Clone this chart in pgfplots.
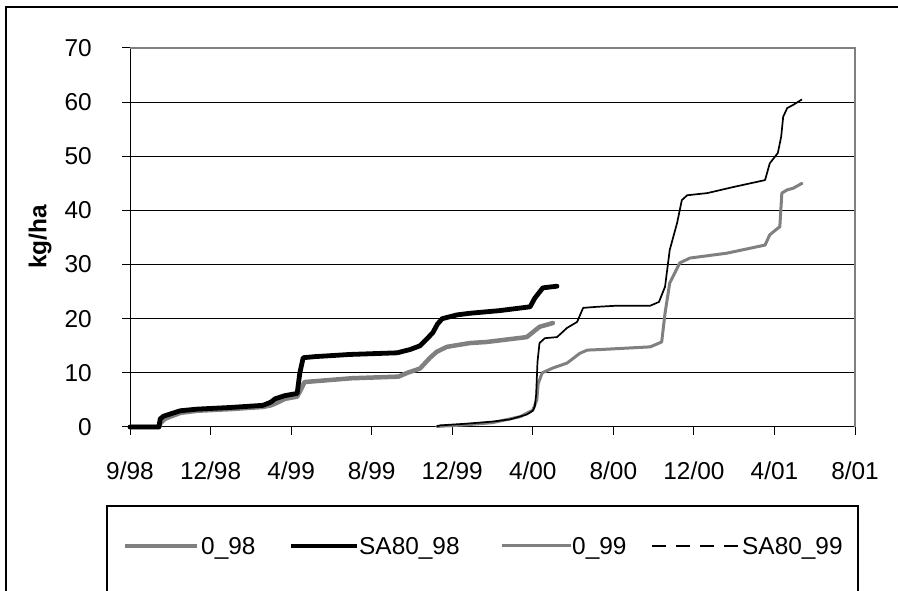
\documentclass[border=0pt]{standalone}
\usepackage{pgfplots}
\pgfplotsset{compat=1.18}
\usepackage{fontspec}
\setmainfont{Liberation Sans}
\definecolor{exgray}{RGB}{128,128,128}
\newcommand\chartfont{\fontsize{24.5}{29}\selectfont}
\begin{document}
\begin{tikzpicture}[x=1bp,y=1bp]
\useasboundingbox (0,0) rectangle (898,591);
\begin{axis}[
  at={(130bp,164bp)}, anchor=south west,
  scale only axis, width=725bp, height=379bp,
  xmin=0, xmax=1080, ymin=0, ymax=70,
  axis x line*=bottom, axis y line*=left,
  axis line style={black, line width=1bp},
  xtick={0,120,240,360,480,600,720,840,960,1080},
  xticklabels={9/98,12/98,4/99,8/99,12/99,4/00,8/00,12/00,4/01,8/01},
  ytick={0,10,20,30,40,50,60,70},
  tick align=outside, major tick length=8bp,
  tick style={black, line width=1bp},
  ymajorgrids, grid style={black, line width=1bp},
  /pgf/number format/assume math mode=true,
  every tick label/.append style={font=\chartfont, inner sep=0pt},
  xticklabel style={anchor=base, yshift=-44.5bp},
  yticklabel style={anchor=east, xshift=-30bp},
  clip=false,
]
\draw[exgray, line width=1.3bp] (rel axis cs:0,1) -- (rel axis cs:1,1) -- (rel axis cs:1,0);
% 0_98
\addplot[exgray, line width=4.5bp, line cap=round, line join=round] coordinates {
(0,0) (43,0) (46,0.8) (52,1.5) (60,1.9) (75,2.6) (100,3.0) (149,3.3) (198,3.7) (210,4.0) (216,4.3) (231,5.2) (249,5.6) (255,7) (260,8.3) (290,8.6) (330,9.0) (400,9.3) (413,10) (432,10.8) (447,12.8) (457,13.9) (472,14.8) (506,15.5) (531,15.7) (591,16.6) (600,17.5) (610,18.5) (630,19.2)
};
% SA80_98
\addplot[black, line width=4.8bp, line cap=round, line join=round] coordinates {
(0,0) (43,0) (45,1.5) (50,2.0) (60,2.4) (75,3.0) (100,3.3) (149,3.6) (198,4.0) (210,4.6) (216,5.2) (231,5.8) (249,6.2) (253,10) (258,12.8) (276,13.0) (328,13.4) (398,13.7) (417,14.3) (432,15.0) (440,16) (451,17.4) (458,19) (465,20.0) (487,20.7) (506,21.0) (551,21.5) (596,22.2) (603,23.8) (615,25.7) (636,26.0)
};
% 0_99
\addplot[exgray, line width=3bp, line cap=round, line join=round] coordinates {
(457,0.1) (500,0.4) (540,0.8) (581,1.9) (600,3.1) (606,5) (608,8) (614,10) (630,10.9) (651,11.8) (670,13.6) (681,14.2) (700,14.3) (775,14.8) (792,15.7) (797,21) (804,26.6) (819,30.3) (834,31.2) (889,32.1) (946,33.6) (953,35.5) (968,37) (971,43.2) (979,43.8) (988,44.1) (1001,45)
};
% SA80_99
\addplot[black, line width=1.7bp, line join=round] coordinates {
(457,0.1) (462,0.3) (500,0.6) (540,1.0) (566,1.4) (591,2.3) (600,3.0) (603,3.8) (605,6) (607,12) (610,15.5) (618,16.4) (636,16.6) (644,17.5) (651,18.3) (666,19.4) (675,22) (696,22.2) (725,22.4) (775,22.4) (788,23.1) (797,25.9) (804,32.7) (815,37.7) (822,41.9) (830,42.8) (860,43.2) (898,44.3) (946,45.6) (953,48.7) (965,50.6) (970,53.6) (973,57.3) (979,58.9) (988,59.5) (1001,60.5)
};
\end{axis}
\node[rotate=90, font=\chartfont\bfseries] at (40,354) {kg/ha};
% chart frame
\draw[black, line width=2.5bp] (6,-5) -- (6,584) -- (905,584);
% legend box
\draw[black, line width=1.2bp] (107,-5) -- (107,85) -- (858,85) -- (858,-5);
\begin{scope}[font=\chartfont]
\draw[exgray, line width=4.5bp] (125,45) -- (197,45);
\node[anchor=base west, inner sep=0pt] at (201,36) {0\_98};
\draw[black, line width=4.8bp] (291,45) -- (357,45);
\node[anchor=base west, inner sep=0pt] at (359,36) {SA80\_98};
\draw[exgray, line width=3bp] (502,45) -- (571,45);
\node[anchor=base west, inner sep=0pt] at (572,36) {0\_99};
\draw[black, line width=1.7bp, dash pattern=on 14bp off 10bp] (652,45) -- (739,45);
\node[anchor=base west, inner sep=0pt] at (742,36) {SA80\_99};
\end{scope}
\end{tikzpicture}
\end{document}
